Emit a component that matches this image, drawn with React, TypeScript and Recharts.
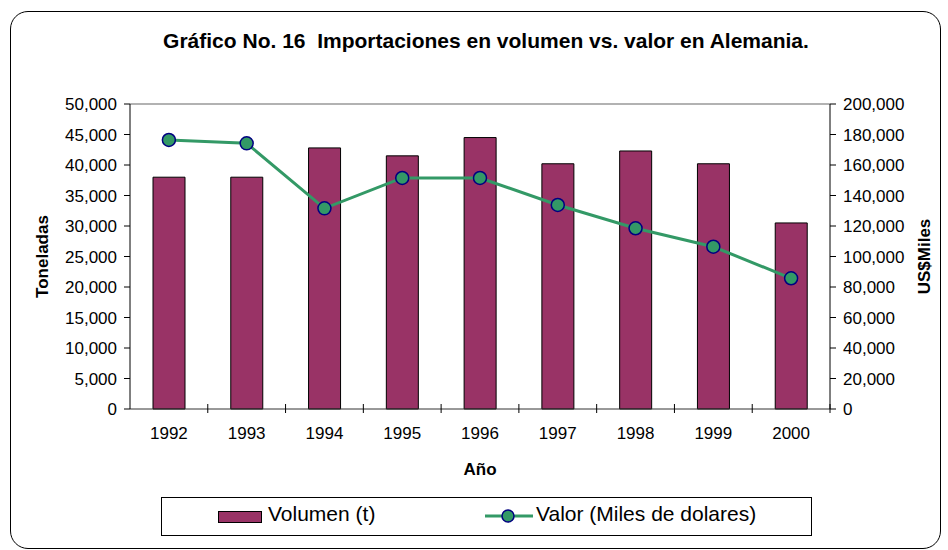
import React from "react";
import { ComposedChart, Bar, Line, XAxis, YAxis, ReferenceLine } from "recharts";

const years = ["1992", "1993", "1994", "1995", "1996", "1997", "1998", "1999", "2000"];
const volumen = [38000, 38000, 42800, 41500, 44500, 40200, 42300, 40200, 30500];
const valor = [176400, 174200, 131600, 151500, 151500, 133800, 118500, 106400, 85700];

const leftTicks = [0, 5000, 10000, 15000, 20000, 25000, 30000, 35000, 40000, 45000, 50000];
const rightTicks = [0, 20000, 40000, 60000, 80000, 100000, 120000, 140000, 160000, 180000, 200000];

const data = years.map((year, i) => ({ year, volumen: volumen[i], valor: valor[i] }));

const font = '"Liberation Sans", Arial, sans-serif';
const fmt = (v: number) => v.toLocaleString("en-US");

// category labels, plus the small tick marks Excel draws between categories
function YearTick(props: any) {
  const { x, y, payload, width, visibleTicksCount } = props;
  const half = width / visibleTicksCount / 2;
  const axisY = y - 18;
  return (
    <g>
      <line x1={x + half} x2={x + half} y1={axisY - 5} y2={axisY + 4} stroke="#000" />
      <text x={x} y={y} dy="0.71em" textAnchor="middle" fontSize={17} fill="#000" fontFamily={font}>
        {payload.value}
      </text>
    </g>
  );
}

function LegendBox() {
  return (
    <div
      style={{
        position: "absolute",
        left: 161,
        top: 497,
        width: 649,
        height: 37,
        border: "1px solid #000",
        background: "#fff",
        fontFamily: font,
        fontSize: 21,
        color: "#000",
      }}
    >
      <div
        style={{
          position: "absolute",
          left: 56,
          top: 13,
          width: 42,
          height: 10,
          background: "#993366",
          border: "1px solid #000",
        }}
      />
      <span style={{ position: "absolute", left: 106, top: 4 }}>Volumen (t)</span>
      <svg style={{ position: "absolute", left: 322, top: 7 }} width={50} height={22}>
        <line x1={1} x2={49} y1={11} y2={11} stroke="#339966" strokeWidth={3} />
        <circle cx={24} cy={11} r={6} fill="#339966" stroke="#000080" strokeWidth={1.5} />
      </svg>
      <span style={{ position: "absolute", left: 374, top: 4 }}>Valor (Miles de dolares)</span>
    </div>
  );
}

export default function App() {
  return (
    <div style={{ position: "absolute", left: 0, top: 0, width: 948, height: 550, background: "#fff" }}>
      <div
        style={{
          position: "absolute",
          left: 10,
          top: 11,
          width: 929,
          height: 536,
          border: "1px solid #000",
          borderRadius: 18,
        }}
      />
      <div
        style={{
          position: "absolute",
          left: 0,
          top: 29,
          width: 972,
          textAlign: "center",
          fontFamily: font,
          fontWeight: "bold",
          fontSize: 21,
          color: "#000",
          whiteSpace: "pre",
        }}
      >
        {"Gráfico No. 16  Importaciones en volumen vs. valor en Alemania."}
      </div>
      <div style={{ position: "absolute", left: 0, top: 0 }}>
        <ComposedChart
          width={948}
          height={550}
          data={data}
          margin={{ top: 104, right: 0, bottom: 101, left: 0 }}
        >
          <XAxis
            dataKey="year"
            height={40}
            axisLine={{ stroke: "#333" }}
            tickLine={false}
            tickSize={0}
            tickMargin={18}
            tick={<YearTick />}
            interval={0}
            label={{
              value: "Año",
              position: "bottom",
              offset: 14,
              fontFamily: font,
              fontWeight: "bold",
              fontSize: 17,
              fill: "#000",
            }}
          />
          <YAxis
            yAxisId="left"
            width={130}
            domain={[0, 50000]}
            ticks={leftTicks}
            tickFormatter={fmt}
            interval={0}
            axisLine={{ stroke: "#000" }}
            tickLine={{ stroke: "#000" }}
            tickSize={6}
            tickMargin={7}
            tick={{ fontSize: 17, fill: "#000", fontFamily: font }}
            label={{
              value: "Toneladas",
              angle: -90,
              position: "insideLeft",
              offset: 42,
              fontFamily: font,
              fontWeight: "bold",
              fontSize: 17,
              fill: "#000",
              style: { textAnchor: "middle" },
            }}
          />
          <YAxis
            yAxisId="right"
            orientation="right"
            width={118}
            domain={[0, 200000]}
            ticks={rightTicks}
            tickFormatter={fmt}
            interval={0}
            axisLine={{ stroke: "#000" }}
            tickLine={{ stroke: "#000" }}
            tickSize={6}
            tickMargin={7}
            tick={{ fontSize: 17, fill: "#000", fontFamily: font }}
            label={{
              value: "US$Miles",
              angle: -90,
              position: "insideRight",
              offset: 24,
              fontFamily: font,
              fontWeight: "bold",
              fontSize: 17,
              fill: "#000",
              style: { textAnchor: "middle" },
            }}
          />
          <ReferenceLine yAxisId="left" y={50000} stroke="#999" strokeWidth={1.5} />
          <Bar
            yAxisId="left"
            dataKey="volumen"
            name="Volumen (t)"
            fill="#993366"
            stroke="#000"
            strokeWidth={1}
            barSize={32}
            isAnimationActive={false}
          />
          <Line
            yAxisId="right"
            dataKey="valor"
            name="Valor (Miles de dolares)"
            type="linear"
            stroke="#339966"
            strokeWidth={3}
            dot={{ r: 6.5, fill: "#339966", stroke: "#000080", strokeWidth: 1.5 }}
            activeDot={false}
            isAnimationActive={false}
          />
        </ComposedChart>
      </div>
      <LegendBox />
    </div>
  );
}
